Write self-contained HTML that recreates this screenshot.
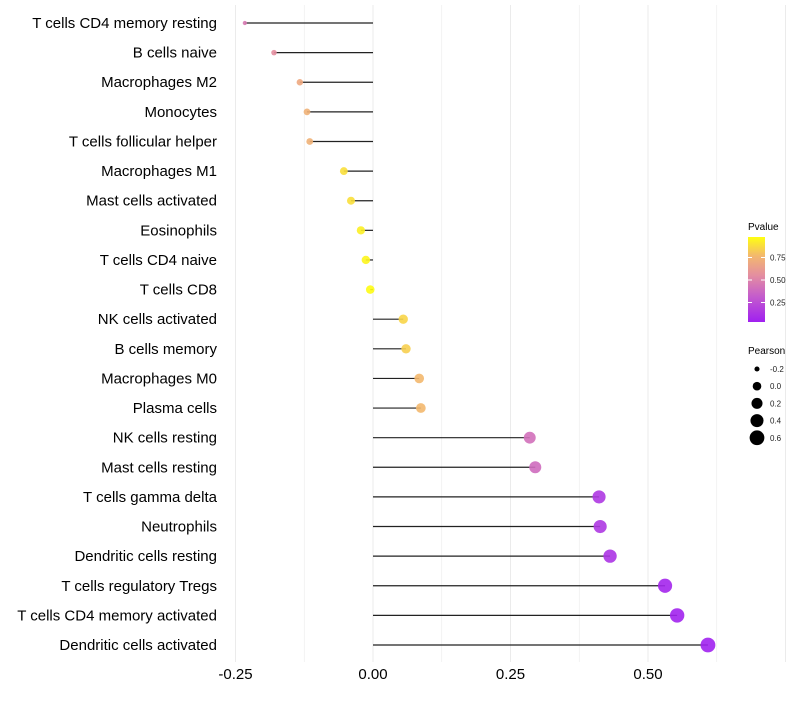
<!DOCTYPE html>
<html><head><meta charset="utf-8"><style>
body{margin:0;background:#fff;font-family:"Liberation Sans",sans-serif}
</style></head><body>
<svg id="c" width="800" height="700" xmlns="http://www.w3.org/2000/svg">
<defs><linearGradient id="pg" x1="0" y1="1" x2="0" y2="0">
<stop offset="0" stop-color="#a020f0"/><stop offset="0.3" stop-color="#c45ccc"/><stop offset="0.55" stop-color="#e48ea0"/><stop offset="0.78" stop-color="#f3b86e"/><stop offset="1" stop-color="#ffff10"/></linearGradient></defs>
<g id="grid"></g><g id="marks"></g><g id="labels"></g><g id="legend"></g>
</svg>
<script>
const cells=["T cells CD4 memory resting","B cells naive","Macrophages M2","Monocytes","T cells follicular helper","Macrophages M1","Mast cells activated","Eosinophils","T cells CD4 naive","T cells CD8","NK cells activated","B cells memory","Macrophages M0","Plasma cells","NK cells resting","Mast cells resting","T cells gamma delta","Neutrophils","Dendritic cells resting","T cells regulatory  Tregs ","T cells CD4 memory activated","Dendritic cells activated"];
const pearson=[-0.233,-0.18,-0.133,-0.12,-0.115,-0.053,-0.04,-0.022,-0.013,-0.005,0.055,0.06,0.084,0.087,0.285,0.295,0.411,0.413,0.431,0.531,0.553,0.609];
const pvalue=[0.45,0.55,0.7,0.74,0.74,0.9,0.9,0.95,0.97,0.99,0.87,0.85,0.78,0.78,0.4,0.38,0.12,0.12,0.1,0.03,0.02,0.01];
const xTicks=[-0.25,0,0.25,0.5];
const xTickLabels=["-0.25","0.00","0.25","0.50"];
const sizeLegend=[-0.2,0,0.2,0.4,0.6];
const pTicks=[0.25,0.5,0.75];
const NS="http://www.w3.org/2000/svg";
const x=v=>373+v*550;
const y=i=>23+i*(622/21);
const rad=v=>Math.sqrt(Math.max(1.6,18.5+v*60));
const stops=[[0,[160,32,240]],[0.3,[196,92,204]],[0.55,[228,142,160]],[0.78,[243,184,110]],[1,[255,255,16]]];
function col(p){for(let i=1;i<stops.length;i++){if(p<=stops[i][0]){const a=stops[i-1],b=stops[i],t=(p-a[0])/(b[0]-a[0]);return 'rgb('+a[1].map((c,k)=>Math.round(c+(b[1][k]-c)*t)).join(',')+')';}}return 'rgb(255,255,16)';}
function mk(t,at,parent){const e=document.createElementNS(NS,t);for(const k in at)e.setAttribute(k,at[k]);document.getElementById(parent).appendChild(e);return e;}
for(let v=-0.25;v<=0.75;v+=0.125){const l=mk('line',{x1:x(v),x2:x(v),y1:5,y2:662,stroke:'#ebebeb','stroke-width':Math.abs(v*4-Math.round(v*4))<1e-6?1:0.6},'grid');

}
xTicks.forEach((v,i)=>{const t=mk('text',{x:x(v),y:679,'text-anchor':'middle','font-size':15,fill:'#000'},'labels');t.textContent=xTickLabels[i];

});
cells.forEach((c,i)=>{
const t=mk('text',{x:217,y:y(i)+5,'text-anchor':'end','font-size':15,fill:'#000'},'labels');t.textContent=c;


const s=mk('line',{x1:x(0),x2:x(pearson[i]),y1:y(i),y2:y(i),stroke:'#222','stroke-width':1.2},'marks');


const p=mk('circle',{cx:x(pearson[i]),cy:y(i),r:rad(pearson[i]),fill:col(pvalue[i]),'fill-opacity':0.9},'marks');


});
let t=mk('text',{x:748,y:230,'font-size':10,fill:'#000'},'legend');t.textContent='Pvalue';


const cb=mk('rect',{x:748,y:237,width:17,height:85,fill:'url(#pg)'},'legend');


pTicks.forEach(p=>{const yy=325-p*90;mk('line',{x1:748,x2:752,y1:yy,y2:yy,stroke:'#fff'},'legend');mk('line',{x1:761,x2:765,y1:yy,y2:yy,stroke:'#fff'},'legend');
const l=mk('text',{x:770,y:yy+3,'font-size':8,fill:'#222'},'legend');l.textContent=p.toFixed(2);

});
t=mk('text',{x:748,y:354,'font-size':10,fill:'#000'},'legend');t.textContent='Pearson';


sizeLegend.forEach((v,i)=>{const yy=369+i*17.2;
const c=mk('circle',{cx:757,cy:yy,r:rad(v),fill:'#000'},'legend');


const l=mk('text',{x:770,y:yy+3,'font-size':8,fill:'#222'},'legend');l.textContent=v===0?'0.0':String(v);

});
</script>
</body></html>
